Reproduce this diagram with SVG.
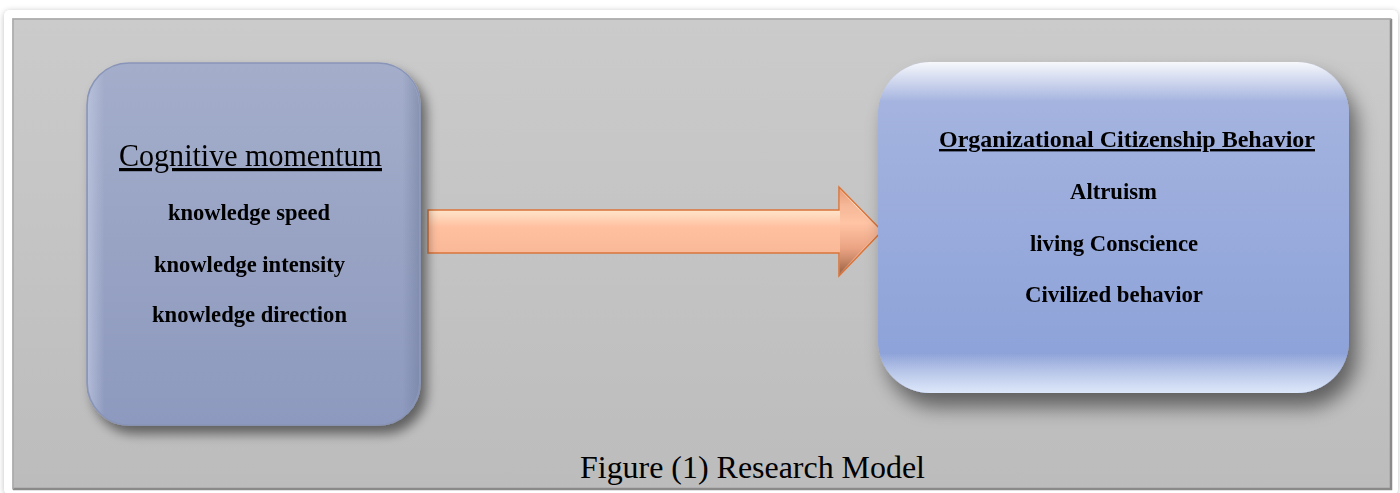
<svg xmlns="http://www.w3.org/2000/svg" width="1400" height="493" viewBox="0 0 1400 493">
<style>
.t{font-family:"Liberation Serif","Times New Roman",serif;fill:#000;text-anchor:middle}
.b{font-weight:bold;font-size:24px}
.u{text-decoration:underline}
</style>
<defs>
<linearGradient id="panel" x1="0" y1="0" x2="0" y2="1">
<stop offset="0" stop-color="#cbcbcb"/><stop offset="1" stop-color="#bcbcbc"/>
</linearGradient>
<linearGradient id="lbox" x1="0" y1="0" x2="0" y2="1">
<stop offset="0" stop-color="#a4aecb"/><stop offset="0.5" stop-color="#98a3c4"/><stop offset="1" stop-color="#8d99be"/>
</linearGradient>
<linearGradient id="ledge" x1="0" y1="0" x2="1" y2="0">
<stop offset="0" stop-color="#c0c8e0" stop-opacity="0.7"/><stop offset="0.05" stop-color="#c0c8e0" stop-opacity="0"/><stop offset="0.95" stop-color="#707c9c" stop-opacity="0"/><stop offset="1" stop-color="#707c9c" stop-opacity="0.5"/>
</linearGradient>
<linearGradient id="rbox" x1="0" y1="0" x2="0" y2="1">
<stop offset="0" stop-color="#a8b6e0"/><stop offset="1" stop-color="#8aa0d8"/>
</linearGradient>
<linearGradient id="rglow" x1="0" y1="0" x2="0" y2="1">
<stop offset="0" stop-color="#ffffff" stop-opacity="0.9"/><stop offset="0.12" stop-color="#ffffff" stop-opacity="0"/><stop offset="0.88" stop-color="#ffffff" stop-opacity="0"/><stop offset="1" stop-color="#e6f0ff" stop-opacity="0.9"/>
</linearGradient>
<linearGradient id="arr" x1="0" y1="0" x2="0" y2="1">
<stop offset="0" stop-color="#f8a878"/><stop offset="0.2" stop-color="#fff0d8"/><stop offset="0.45" stop-color="#ffc0a0"/><stop offset="0.8" stop-color="#f8b898"/><stop offset="1" stop-color="#a87058"/>
</linearGradient>
<linearGradient id="head" x1="0" y1="0" x2="0" y2="1">
<stop offset="0" stop-color="#e89a78"/><stop offset="0.4" stop-color="#ffc4a4"/><stop offset="0.7" stop-color="#e8a080"/><stop offset="1" stop-color="#9a6040"/>
</linearGradient>
<filter id="sh" x="-20%" y="-20%" width="150%" height="150%">
<feGaussianBlur in="SourceAlpha" stdDeviation="6"/><feOffset dx="6" dy="8"/>
<feComponentTransfer><feFuncA type="linear" slope="0.5"/></feComponentTransfer>
<feMerge><feMergeNode/><feMergeNode in="SourceGraphic"/></feMerge>
</filter>
<filter id="sh2" x="-20%" y="-20%" width="150%" height="160%">
<feGaussianBlur in="SourceAlpha" stdDeviation="10"/><feOffset dx="8" dy="14"/>
<feComponentTransfer><feFuncA type="linear" slope="0.5"/></feComponentTransfer>
<feMerge><feMergeNode/><feMergeNode in="SourceGraphic"/></feMerge>
</filter>
<filter id="fsh" x="-5%" y="-5%" width="110%" height="110%">
<feGaussianBlur in="SourceAlpha" stdDeviation="3"/><feOffset dx="0" dy="1"/>
<feComponentTransfer><feFuncA type="linear" slope="0.25"/></feComponentTransfer>
<feMerge><feMergeNode/><feMergeNode in="SourceGraphic"/></feMerge>
</filter>
</defs>
<rect width="1400" height="493" fill="#ffffff"/>
<g id="frame">
<rect x="4" y="10" width="1394" height="485" rx="6" fill="#ffffff" filter="url(#fsh)"/>
<rect x="12" y="18" width="1380" height="472" fill="url(#panel)"/>
<rect x="12.5" y="18.5" width="1379" height="471" fill="none" stroke="#d9d9d9" stroke-width="1"/>
<path d="M13 489 L1391 489 L1391 19" fill="none" stroke="#8a8a8a" stroke-width="2.5"/>
<path d="M13 489 L13 19 L1391 19" fill="none" stroke="#a8a8a8" stroke-width="1.5"/>
</g>
<g id="connectors">
<path d="M428 210 L839 210 L839 187 L882 231 L839 276 L839 253 L428 253 Z" fill="url(#arr)" stroke="#d9743a" stroke-width="1.5" stroke-linejoin="miter"/>
<path d="M840 190 L880 231 L840 273 Z" fill="url(#head)" opacity="0.85"/>
</g>
<g id="node-cognitive" filter="url(#sh)">
<rect x="87" y="63" width="333" height="362" rx="42" fill="url(#lbox)" stroke="#8995b8" stroke-width="1.5"/>
<rect x="88" y="64" width="331" height="360" rx="41" fill="url(#ledge)"/>
<text class="t u" x="250.5" y="166" font-size="32" textLength="263" lengthAdjust="spacingAndGlyphs">Cognitive momentum</text>
<text class="t b" x="249" y="220" textLength="162" lengthAdjust="spacingAndGlyphs">knowledge speed</text>
<text class="t b" x="249.5" y="272" textLength="191" lengthAdjust="spacingAndGlyphs">knowledge intensity</text>
<text class="t b" x="249.5" y="322" textLength="195" lengthAdjust="spacingAndGlyphs">knowledge direction</text>
</g>
<g id="node-ocb" filter="url(#sh2)">
<rect x="878" y="62" width="471" height="331" rx="52" fill="url(#rbox)"/>
<rect x="878" y="62" width="471" height="331" rx="52" fill="url(#rglow)"/>
<text class="t b u" x="1127" y="147" textLength="376" lengthAdjust="spacingAndGlyphs">Organizational Citizenship Behavior</text>
<text class="t b" x="1113.5" y="199" textLength="87" lengthAdjust="spacingAndGlyphs">Altruism</text>
<text class="t b" x="1114" y="251" textLength="168" lengthAdjust="spacingAndGlyphs">living Conscience</text>
<text class="t b" x="1114" y="302" textLength="178" lengthAdjust="spacingAndGlyphs">Civilized behavior</text>
</g>
<text class="t" x="752.5" y="478" font-size="31" textLength="345" lengthAdjust="spacingAndGlyphs">Figure (1) Research Model</text>
</svg>
